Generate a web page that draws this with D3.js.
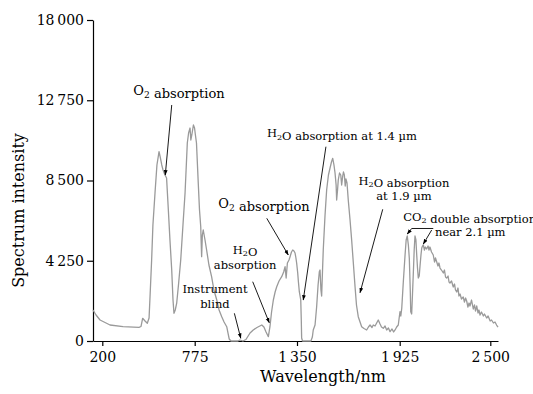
<!DOCTYPE html>
<html>
<head>
<meta charset="utf-8">
<script src="https://cdn.jsdelivr.net/npm/d3@7"></script>
<style>
  body { margin: 0; background: #fff; }
  svg { display: block; font-family: "DejaVu Serif", serif; }
  .axis path, .axis line { stroke: #000; stroke-width: 1.2; }
  .axis text { font-size: 14px; fill: #000; font-family: "DejaVu Serif", serif; }
  .label { font-size: 16px; fill: #000; }
  .note { fill: #000; }
</style>
</head>
<body>
<svg width="533" height="394"></svg>
<script>
// spectrum (wavelength in nm, intensity in counts)
const wavelength = [
  142, 161, 186, 248, 329, 428, 441, 451, 466, 480, 491, 497, 507, 515, 528, 540, 553, 559, 570, 578,
  590, 600, 611, 621, 632, 640, 646, 654, 663, 674, 688, 702, 715, 729, 737, 746, 751, 757, 767, 774,
  779, 785, 795, 802, 809, 811, 814, 818, 823, 833, 842, 855, 870, 883, 899, 912, 927, 940, 955, 962,
  969, 979, 1018, 1029, 1046, 1063, 1086, 1104, 1125, 1152, 1164, 1176, 1189, 1198, 1207, 1217, 1227, 1236, 1249, 1264,
  1275, 1283, 1289, 1296, 1305, 1311, 1319, 1326, 1333, 1339, 1344, 1348, 1354, 1358, 1363, 1371, 1374, 1376, 1381, 1428,
  1436, 1441, 1451, 1460, 1468, 1475, 1479, 1484, 1488, 1493, 1497, 1507, 1516, 1526, 1535, 1543, 1550, 1557, 1563, 1569,
  1572, 1577, 1581, 1588, 1595, 1600, 1606, 1610, 1615, 1620, 1624, 1630, 1637, 1647, 1656, 1665, 1675, 1683, 1693, 1703,
  1712, 1725, 1740, 1750, 1759, 1770, 1777, 1787, 1796, 1805, 1815, 1823, 1833, 1843, 1852, 1862, 1871, 1882, 1891, 1899,
  1908, 1917, 1922, 1927, 1932, 1938, 1948, 1959, 1966, 1973, 1980, 1986, 1992, 1995, 2001, 2006, 2011, 2017, 2022, 2028,
  2033, 2038, 2043, 2049, 2054, 2060, 2065, 2070, 2075, 2082, 2088, 2096, 2105, 2111, 2117, 2127, 2138, 2146, 2152, 2160,
  2168, 2174, 2181, 2190, 2202, 2209, 2216, 2223, 2232, 2238, 2244, 2254, 2265, 2273, 2279, 2287, 2295, 2301, 2308, 2317,
  2328, 2336, 2343, 2350, 2358, 2365, 2371, 2381, 2392, 2400, 2406, 2414, 2422, 2428, 2435, 2444, 2456, 2463, 2477, 2486,
  2499, 2508, 2520, 2530, 2540, 2549
];
const intensity = [
  1642, 1377, 1112, 847, 757, 726, 768, 1202, 1059, 937, 1218, 2346, 4290, 6143, 7838, 9321, 10025, 9798, 9321, 9056,
  8791, 8632, 6938, 5349, 3760, 2171, 1466, 1642, 2012, 2966, 4290, 6143, 7838, 10486, 11016, 11280, 10645, 10910, 11439, 11280,
  10910, 10486, 8368, 6938, 6053, 5349, 4464, 5614, 5879, 5349, 4820, 4025, 3405, 2701, 2171, 1642, 1287, 1006, 757, 424,
  106, 0, 0, 53, 0, 79, 424, 583, 715, 847, 741, 477, 228, 757, 1536, 2171, 2595, 2876, 3178, 3405,
  3654, 3935, 3336, 4131, 4290, 4464, 4713, 4819, 4766, 4660, 4396, 4131, 3601, 3125, 2611, 2171, 1112, 159, 0, 0,
  212, 583, 847, 1817, 2966, 3670, 3760, 2701, 2383, 3760, 4819, 6673, 7997, 8791, 9162, 9480, 9676, 9321, 8897, 8262,
  7467, 7997, 8527, 8897, 8791, 8262, 8738, 8950, 8791, 8209, 8580, 8368, 7467, 6408, 5349, 4184, 2876, 1907, 1287, 1006,
  757, 662, 583, 741, 847, 715, 847, 794, 953, 1112, 900, 741, 673, 794, 583, 688, 493, 636, 477, 583,
  741, 847, 1218, 1552, 1324, 1732, 3140, 4555, 5349, 5561, 5084, 4380, 2701, 1552, 1430, 2436, 3495, 4819, 5561, 5349,
  4555, 3866, 3336, 3442, 3972, 4555, 4925, 5031, 5084, 4819, 4978, 4872, 5031, 4819, 4978, 4713, 4555, 4184, 4396, 4184,
  3972, 4131, 3866, 3760, 3601, 3760, 3389, 3336, 3442, 3125, 3072, 3178, 2860, 3019, 2701, 2595, 2807, 2383, 2489, 2224,
  2330, 2065, 2277, 2118, 1801, 2012, 1854, 2171, 1695, 1907, 1589, 1854, 1483, 1642, 1377, 1536, 1324, 1430, 1218, 1324,
  1059, 1112, 953, 1006, 847, 741
];

const xTicks = [200, 775, 1350, 1925, 2500];
const xTickLabels = ["200", "775", "1\u2009350", "1\u2009925", "2\u2009500"];
const yTicks = [0, 4250, 8500, 12750, 17000];
const yTickLabels = ["0", "4\u2009250", "8\u2009500", "12\u2009750", "18\u2009000"];

// annotations: text anchor and arrows given in data units
const notes = [
  { lines: ["O_2 absorption"], at: [393, 13028], size: 13, anchor: "start" },
  { lines: ["H_2O absorption at 1.4 \u00b5m"], at: [1181, 10788], size: 11.5, anchor: "start" },
  { lines: ["O_2 absorption"], at: [908, 7028], size: 13, anchor: "start" },
  { lines: ["H_2O", "absorption"], at: [1058, 4608], size: 11.5, anchor: "middle" },
  { lines: ["Instrument", "blind"], at: [889, 2526], size: 11.5, anchor: "middle" },
  { lines: ["H_2O absorption", "at 1.9 \u00b5m"], at: [1952, 8262], size: 11.5, anchor: "middle" },
  { lines: ["CO_2 double absorption"], at: [1948, 6355], size: 11.5, anchor: "start" },
  { lines: ["near 2.1 \u00b5m"], at: [2149, 5561], size: 11.5, anchor: "start" }
];
const arrows = [
  [[632, 12499], [592, 8791]],
  [[1512, 10290], [1385, 2171]],
  [[1180, 6498], [1301, 4555]],
  [[1101, 3140], [1194, 969]],
  [[998, 1467], [1034, 143]],
  [[1830, 6975], [1703, 2558]],
  [[2001, 5958], [1973, 5667]],
  [[2128, 5878], [2075, 5137]]
];
const bracket = [[2001, 5958], [2138, 5958]];

const svg = d3.select("svg");
const margin = { top: 20, right: 35, bottom: 53, left: 93 };
const width = 533 - margin.left - margin.right;
const height = 394 - margin.top - margin.bottom;

const chart = svg.append("g").attr("transform", `translate(${margin.left}, ${margin.top})`);

// the printed x axis is not evenly spaced, so the scale is piecewise
const xScale = d3.scaleLinear()
  .domain([142, 200, 775, 1350, 1925, 2500, 2549])
  .range([0, 9.3, 101.7, 204, 306.7, 397.3, width]);
const yScale = d3.scaleLinear().domain([0, 17000]).range([height, 0]);

chart.append("g")
  .attr("class", "axis")
  .attr("transform", `translate(0, ${height})`)
  .call(d3.axisBottom(xScale).tickValues(xTicks).tickSize(5).tickSizeOuter(0).tickPadding(6)
    .tickFormat((d, i) => xTickLabels[i]));

chart.append("g")
  .attr("class", "axis")
  .call(d3.axisLeft(yScale).tickValues(yTicks).tickSize(6).tickSizeOuter(0).tickPadding(3)
    .tickFormat((d, i) => yTickLabels[i]));

const line = d3.line()
  .x((d, i) => xScale(wavelength[i]))
  .y((d) => yScale(d));

chart.append("path")
  .datum(intensity)
  .attr("fill", "none")
  .attr("stroke", "#9a9a9a")
  .attr("stroke-width", 1.3)
  .attr("stroke-linejoin", "round")
  .attr("d", line);

// arrow head
svg.append("defs").append("marker")
  .attr("id", "head")
  .attr("viewBox", "0 0 10 10")
  .attr("refX", 9).attr("refY", 5)
  .attr("markerWidth", 6).attr("markerHeight", 6)
  .attr("orient", "auto")
  .append("path")
  .attr("d", "M0,1.5L10,5L0,8.5Z")
  .attr("fill", "#000");

chart.selectAll(".arrow")
  .data(arrows)
  .enter()
  .append("line")
  .attr("class", "arrow")
  .attr("x1", (a) => xScale(a[0][0]))
  .attr("y1", (a) => yScale(a[0][1]))
  .attr("x2", (a) => xScale(a[1][0]))
  .attr("y2", (a) => yScale(a[1][1]))
  .attr("stroke", "#000")
  .attr("stroke-width", 0.9)
  .attr("marker-end", "url(#head)");

chart.append("line")
  .attr("x1", xScale(bracket[0][0]))
  .attr("y1", yScale(bracket[0][1]))
  .attr("x2", xScale(bracket[1][0]))
  .attr("y2", yScale(bracket[1][1]))
  .attr("stroke", "#000")
  .attr("stroke-width", 0.9);

// "X_2" -> X with subscript 2
const writeLine = (text, str) => {
  const parts = str.split(/_(.)/);
  parts.forEach((p, k) => {
    if (p === "") return;
    if (k % 2 === 1) {
      text.append("tspan").attr("font-size", "70%").attr("dy", "0.3em").text(p);
      text.append("tspan").attr("dy", "-0.3em").text("");
    } else {
      text.append("tspan").text(p);
    }
  });
};

notes.forEach((n) => {
  n.lines.forEach((str, j) => {
    const t = chart.append("text")
      .attr("class", "note")
      .attr("x", xScale(n.at[0]))
      .attr("y", yScale(n.at[1]) + j * n.size * 1.27)
      .attr("text-anchor", n.anchor)
      .attr("font-size", n.size);
    writeLine(t, str);
  });
});

svg.append("text")
  .attr("class", "label")
  .attr("x", -(height / 2) - margin.top - 30)
  .attr("y", 24)
  .attr("transform", "rotate(-90)")
  .attr("text-anchor", "middle")
  .text("Spectrum intensity");

svg.append("text")
  .attr("class", "label")
  .attr("x", 323)
  .attr("y", 382)
  .attr("text-anchor", "middle")
  .text("Wavelength/nm");
</script>
</body>
</html>
